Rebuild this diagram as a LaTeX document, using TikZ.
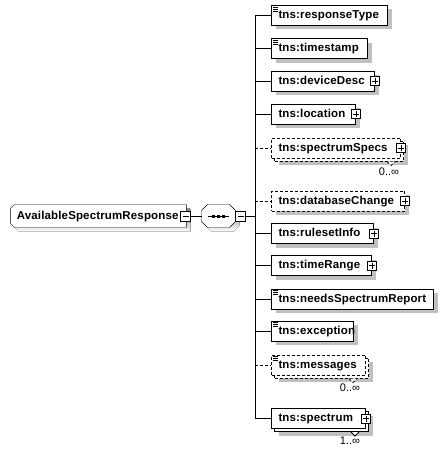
\documentclass[tikz,border=0pt]{standalone}
\usepackage{fontspec}
\setmainfont{Liberation Sans}
\newfontfamily\boxfont{Liberation Sans}[LetterSpace=1.3]
\usetikzlibrary{shadows,backgrounds}
\definecolor{shade}{RGB}{192,192,192}
\begin{document}
\begin{tikzpicture}[x=1pt,y=-1pt,line width=1pt,
  every node/.style={font=\boxfont\fontsize{11.5}{13}\selectfont\bfseries},
  elem/.style={draw,fill=white,anchor=west,minimum height=20pt,inner xsep=7pt,
    inner ysep=0pt,text height=8.5pt,text depth=2.5pt,align=left},
  shd/.style={drop shadow={shadow xshift=4pt,shadow yshift=-4pt,fill=shade,opacity=1}},
  multi/.style={drop shadow={shadow xshift=7pt,shadow yshift=-7pt,fill=shade,opacity=1},
    copy shadow={shadow xshift=3pt,shadow yshift=-3pt}},
  opt/.style={dash pattern=on 3pt off 2pt},
  icon/.style={path picture={\draw[solid,line width=0.7pt]
    ([shift={(1.5pt,-1.8pt)}]path picture bounding box.north west) -- ++(5pt,0pt)
    ([shift={(1.5pt,-3.8pt)}]path picture bounding box.north west) -- ++(5pt,0pt)
    ([shift={(1.5pt,-5.8pt)}]path picture bounding box.north west) -- ++(5pt,0pt);}},
  plusbox/.style={draw,solid,fill=white,minimum size=9pt,inner sep=0pt,line width=0.8pt,
    path picture={\draw[line width=0.8pt]
      ([xshift=-3pt]path picture bounding box.center) -- ([xshift=3pt]path picture bounding box.center)
      ([yshift=-3pt]path picture bounding box.center) -- ([yshift=3pt]path picture bounding box.center);}},
  minusbox/.style={draw,fill=white,minimum size=10pt,inner sep=0pt,line width=0.8pt,
    path picture={\draw[line width=0.8pt]
      ([xshift=-3pt]path picture bounding box.center) -- ([xshift=3pt]path picture bounding box.center);}},
  rootbox/.style={minimum width=175pt,minimum height=22pt,inner xsep=6pt,inner ysep=0pt,
    text width=163pt,align=left,text height=8.5pt,text depth=2.5pt},
  seqbox/.style={minimum width=33pt,minimum height=22pt,inner sep=0pt},
  lbl/.style={font=\fontsize{11}{13}\selectfont,inner sep=0pt},
  notch/.style={fill=white,line width=0.8pt}
]
\begin{scope}[on background layer]
  \fill[white] (0,0) rectangle (447,459);
\end{scope}
\useasboundingbox (0,0) rectangle (447,459);

% root element and its sequence compositor
\node[rootbox] (root) at (98.35,216) {AvailableSpectrumResponse};
\node[seqbox] (seq) at (218.5,216) {};
\begin{scope}[on background layer]
  % root element outline with chamfered left corners
  \fill[shade] ([shift={(8pt,-4pt)}]root.north west) -- ([shift={(4pt,-4pt)}]root.north east)
    -- ([shift={(4pt,-4pt)}]root.south east) -- ([shift={(8pt,-4pt)}]root.south west)
    -- ([shift={(4pt,0pt)}]root.south west) -- ([shift={(4pt,-8pt)}]root.north west) -- cycle;
  \draw[fill=white] ([xshift=4pt]root.north west) -- (root.north east) -- (root.south east)
    -- ([xshift=4pt]root.south west) -- ([yshift=4pt]root.south west)
    -- ([yshift=-4pt]root.north west) -- cycle;
  % sequence compositor octagon
  \fill[shade] ([shift={(10pt,-4pt)}]seq.north west) -- ([shift={(-2pt,-4pt)}]seq.north east)
    -- ([shift={(4pt,-10pt)}]seq.north east) -- ([shift={(4pt,2pt)}]seq.south east)
    -- ([shift={(-2pt,-4pt)}]seq.south east) -- ([shift={(10pt,-4pt)}]seq.south west)
    -- ([shift={(4pt,2pt)}]seq.south west) -- ([shift={(4pt,-10pt)}]seq.north west) -- cycle;
  \draw[fill=white] ([xshift=6pt]seq.north west) -- ([xshift=-6pt]seq.north east)
    -- ([yshift=-6pt]seq.north east) -- ([yshift=6pt]seq.south east)
    -- ([xshift=-6pt]seq.south east) -- ([xshift=6pt]seq.south west)
    -- ([yshift=6pt]seq.south west) -- ([yshift=-6pt]seq.north west) -- cycle;
\end{scope}
\draw ([xshift=-11pt]seq.center) -- ([xshift=10pt]seq.center);
\foreach \d in {-6.5,-1.5,3.5}
  \fill ([shift={(\d pt,-1.5pt)}]seq.center) rectangle ++(3,-3);
\node[minusbox] (rootm) at (185.5,216) {};
\node[minusbox] (seqm) at (240.5,216) {};
\coordinate (bus) at (255,216);

% child elements
\node[elem,shd,icon,text width=102pt] (rt) at (271,15.3) {tns:responseType};
\node[elem,shd,icon,text width=82pt] (ts) at (271,48.5) {tns:timestamp};
\node[elem,shd,text width=89pt] (dd) at (271,81) {tns:deviceDesc};
\node[elem,shd,text width=70pt] (lo) at (271,114) {tns:location};
\node[elem,multi,opt,text width=115pt] (ss) at (271,148) {tns:spectrumSpecs};
\node[elem,shd,opt,text width=119pt] (dc) at (271,201) {tns:databaseChange};
\node[elem,shd,text width=88pt] (ri) at (271,233.5) {tns:rulesetInfo};
\node[elem,shd,text width=86pt] (tr) at (271,265.5) {tns:timeRange};
\node[elem,shd,icon,text width=148pt] (nr) at (271,299) {tns:needsSpectrumReport};
\node[elem,shd,icon,text width=68pt] (ex) at (271,331) {tns:exception};
\node[elem,multi,opt,icon,text width=80pt] (ms) at (271,365) {tns:messages};
\node[elem,multi,text width=80pt] (sp) at (271,418.5) {tns:spectrum};

% expand buttons
\node[plusbox] (ddx) at (dd.east) {};
\node[plusbox] (lox) at (lo.east) {};
\node[plusbox] (ssx) at (ss.east) {};
\node[plusbox] (dcx) at (dc.east) {};
\node[plusbox] (rix) at (ri.east) {};
\node[plusbox] (trx) at (tr.east) {};
\node[plusbox] (spx) at (sp.east) {};

% occurrence marks
\draw[notch,opt] ([shift={(-14pt,-3pt)}]ss.south east) -- ++(4,4) -- ++(4,-4);
\draw[notch,opt] ([shift={(-17pt,-3pt)}]ms.south east) -- ++(4,4) -- ++(4,-4);
\draw[notch] ([shift={(-15pt,-3pt)}]sp.south east) -- ++(4,4) -- ++(4,-4);
\node[lbl] (ssn) at (389,171.5) {0..∞};
\node[lbl] (msn) at (350,388) {0..∞};
\node[lbl] (spn) at (350,441) {1..∞};

% connectors
\draw (rootm.east) -- (seq.west);
\draw (seq.east) -- (seqm.west);
\draw (seqm.east) -- (bus);
\draw (bus |- rt.west) -- (bus |- sp.west);
\foreach \n in {rt,ts,dd,lo,ri,tr,nr,ex,sp}
  \draw (bus |- \n.west) -- (\n.west);
\foreach \n in {ss,dc,ms}
  \draw[opt] (bus |- \n.west) -- (\n.west);
\end{tikzpicture}
\end{document}
